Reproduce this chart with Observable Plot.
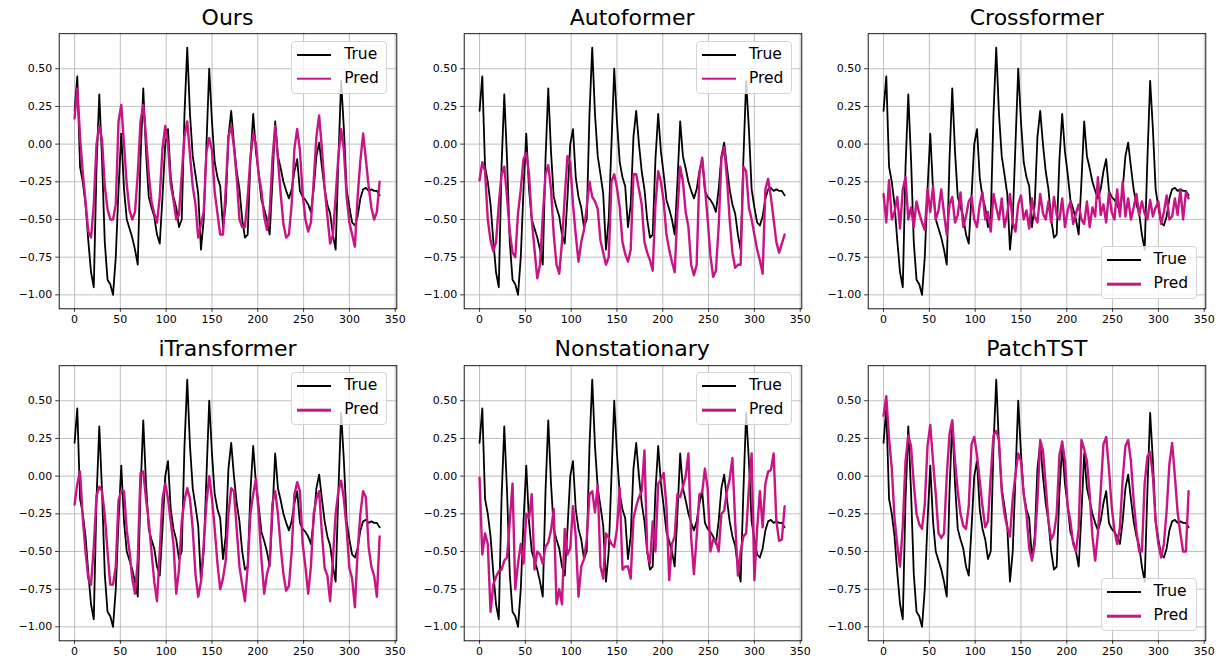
<!DOCTYPE html>
<html><head><meta charset="utf-8">
<script src="https://cdn.jsdelivr.net/npm/d3@7"></script>
<script src="https://cdn.jsdelivr.net/npm/@observablehq/plot@0.6"></script>
<style>
html,body{margin:0;padding:0;background:#fff;}
#fig{position:relative;width:1228px;height:666px;font-family:"DejaVu Sans",sans-serif;overflow:hidden;background:#fff;}
.panel{position:absolute;}
.title{position:absolute;transform:translate(-50%,-100%);font-size:22px;line-height:1;white-space:nowrap;color:#000;}
.legend{position:absolute;width:96px;height:53px;border:1px solid #d4d4d4;border-radius:4px;background:rgba(255,255,255,0.8);box-sizing:border-box;}
.sw{position:absolute;left:5px;width:34px;transform:translateY(-50%);}
.lt{position:absolute;left:52px;transform:translateY(-50%);font-size:15.5px;line-height:1;color:#000;white-space:nowrap;}
</style>
</head><body>
<div id="fig"></div>
<script>
// time index of each sample (every 3rd step of the 336-step horizon)
const steps = d3.range(0, 334, 3);

const trueVals = [
  0.22, 0.45, -0.15, -0.25, -0.40, -0.64, -0.85, -0.95, -0.15, 0.33,
  -0.10, -0.65, -0.90, -0.93, -1.00, -0.75, -0.30, 0.07, -0.30, -0.50,
  -0.56, -0.62, -0.70, -0.80, -0.10, 0.37, -0.05, -0.35, -0.42, -0.48,
  -0.60, -0.66, -0.35, 0.00, 0.10, -0.22, -0.35, -0.42, -0.55, -0.50,
  0.20, 0.64, 0.20, -0.08, -0.20, -0.33, -0.70, -0.50, 0.00, 0.50,
  0.15, -0.12, -0.22, -0.28, -0.55, -0.40, 0.05, 0.22, 0.00, -0.18,
  -0.30, -0.50, -0.62, -0.60, -0.10, 0.20, -0.05, -0.20, -0.37, -0.43,
  -0.50, -0.60, -0.25, 0.15, -0.08, -0.16, -0.25, -0.31, -0.36, -0.30,
  -0.18, -0.10, -0.31, -0.35, -0.37, -0.40, -0.45, -0.30, -0.08, 0.01,
  -0.15, -0.30, -0.40, -0.46, -0.60, -0.70, -0.10, 0.42, 0.10, -0.30,
  -0.42, -0.52, -0.54, -0.48, -0.36, -0.30, -0.29, -0.31, -0.30, -0.31,
  -0.31, -0.34
];

const oursPred = [
  0.17, 0.37, 0.05, -0.19, -0.38, -0.58, -0.62, -0.40, 0.00, 0.12,
  0.03, -0.28, -0.43, -0.50, -0.50, -0.40, 0.15, 0.26, 0.00, -0.27,
  -0.44, -0.50, -0.45, -0.20, 0.15, 0.26, 0.05, -0.20, -0.38, -0.46,
  -0.52, -0.35, -0.03, 0.12, 0.00, -0.27, -0.37, -0.50, -0.47, -0.20,
  0.05, 0.15, -0.07, -0.28, -0.40, -0.62, -0.53, -0.45, -0.05, 0.04,
  -0.04, -0.32, -0.46, -0.60, -0.60, -0.30, 0.05, 0.12, -0.02, -0.22,
  -0.50, -0.55, -0.55, -0.35, -0.09, 0.07, 0.00, -0.20, -0.31, -0.48,
  -0.57, -0.45, -0.10, 0.12, -0.10, -0.33, -0.53, -0.62, -0.60, -0.40,
  -0.03, 0.10, -0.04, -0.33, -0.50, -0.58, -0.52, -0.25, 0.05, 0.19,
  -0.03, -0.29, -0.48, -0.66, -0.60, -0.35, -0.08, 0.10, -0.04, -0.35,
  -0.52, -0.60, -0.68, -0.35, -0.11, 0.07, -0.10, -0.28, -0.42, -0.50,
  -0.45, -0.25
];

const autoformerPred = [
  -0.24, -0.12, -0.18, -0.50, -0.64, -0.71, -0.65, -0.40, -0.20, -0.15,
  -0.35, -0.58, -0.72, -0.75, -0.46, -0.30, -0.10, -0.06, -0.20, -0.50,
  -0.70, -0.89, -0.80, -0.48, -0.20, -0.14, -0.30, -0.60, -0.80, -0.86,
  -0.65, -0.35, -0.08, -0.12, -0.40, -0.60, -0.78, -0.65, -0.57, -0.42,
  -0.25, -0.35, -0.38, -0.43, -0.64, -0.72, -0.80, -0.75, -0.25, -0.20,
  -0.29, -0.42, -0.65, -0.73, -0.78, -0.70, -0.20, -0.20, -0.30, -0.40,
  -0.65, -0.72, -0.77, -0.84, -0.40, -0.18, -0.25, -0.38, -0.60, -0.70,
  -0.78, -0.85, -0.45, -0.15, -0.25, -0.45, -0.55, -0.80, -0.87, -0.80,
  -0.20, -0.09, -0.28, -0.50, -0.74, -0.88, -0.84, -0.55, -0.10, -0.02,
  -0.22, -0.50, -0.72, -0.82, -0.80, -0.80, -0.15, -0.18, -0.42, -0.50,
  -0.60, -0.70, -0.77, -0.86, -0.30, -0.23, -0.35, -0.50, -0.65, -0.72,
  -0.66, -0.60
];

const crossformerPred = [
  -0.33, -0.52, -0.24, -0.50, -0.45, -0.35, -0.56, -0.30, -0.22, -0.50,
  -0.42, -0.55, -0.38, -0.46, -0.52, -0.57, -0.30, -0.45, -0.28, -0.50,
  -0.44, -0.30, -0.46, -0.60, -0.40, -0.35, -0.52, -0.47, -0.32, -0.55,
  -0.48, -0.38, -0.35, -0.50, -0.55, -0.40, -0.32, -0.50, -0.45, -0.58,
  -0.33, -0.42, -0.50, -0.36, -0.55, -0.46, -0.33, -0.52, -0.58, -0.40,
  -0.34, -0.50, -0.44, -0.56, -0.36, -0.48, -0.52, -0.33, -0.46, -0.50,
  -0.38, -0.52, -0.35, -0.47, -0.50, -0.36, -0.55, -0.44, -0.38, -0.53,
  -0.46, -0.40, -0.50, -0.53, -0.38, -0.55, -0.42, -0.48, -0.22, -0.47,
  -0.40, -0.52, -0.32, -0.45, -0.50, -0.30, -0.48, -0.25, -0.48, -0.36,
  -0.50, -0.42, -0.33, -0.47, -0.38, -0.46, -0.50, -0.37, -0.48, -0.42,
  -0.38, -0.53, -0.45, -0.34, -0.50, -0.48, -0.36, -0.47, -0.30, -0.50,
  -0.32, -0.36
];

const itransformerPred = [
  -0.19, -0.05, 0.03, -0.28, -0.50, -0.68, -0.72, -0.47, -0.13, -0.07,
  -0.10, -0.26, -0.50, -0.72, -0.72, -0.60, -0.16, -0.10, -0.10, -0.36,
  -0.50, -0.68, -0.78, -0.56, 0.02, 0.03, -0.15, -0.30, -0.50, -0.70,
  -0.83, -0.50, -0.15, -0.05, -0.15, -0.30, -0.45, -0.78, -0.62, -0.30,
  -0.16, -0.08, -0.15, -0.35, -0.65, -0.80, -0.70, -0.45, -0.18, 0.00,
  -0.15, -0.35, -0.58, -0.75, -0.68, -0.56, -0.25, -0.08, -0.10, -0.35,
  -0.60, -0.72, -0.83, -0.60, -0.25, -0.12, -0.02, -0.25, -0.55, -0.78,
  -0.65, -0.58, -0.18, -0.10, -0.25, -0.47, -0.65, -0.76, -0.73, -0.50,
  -0.12, -0.04, -0.10, -0.45, -0.60, -0.78, -0.60, -0.25, -0.15, -0.10,
  -0.38, -0.61, -0.66, -0.83, -0.55, -0.25, -0.10, -0.03, -0.15, -0.35,
  -0.61, -0.68, -0.87, -0.50, -0.25, -0.10, -0.14, -0.47, -0.60, -0.66,
  -0.80, -0.40
];

const nonstationaryPred = [
  -0.01, -0.52, -0.38, -0.45, -0.90, -0.72, -0.67, -0.63, -0.62, -0.56,
  -0.54, -0.30, -0.05, -0.75, -0.58, -0.45, -0.58, -0.25, -0.28, -0.12,
  -0.62, -0.50, -0.52, -0.58, -0.47, -0.44, -0.36, -0.22, -0.85, -0.75,
  -0.85, -0.35, -0.52, -0.48, -0.20, -0.40, -0.80, -0.60, -0.55, -0.42,
  -0.12, -0.10, -0.24, -0.06, -0.60, -0.68, -0.38, -0.41, -0.45, -0.47,
  -0.35, -0.08, -0.62, -0.60, -0.60, -0.68, -0.28, -0.20, -0.14, -0.10,
  0.17, -0.50, -0.58, -0.30, -0.50, -0.05, -0.02, 0.02, -0.20, -0.69,
  -0.45, -0.40, -0.12, -0.14, -0.07, 0.00, 0.15, -0.41, -0.65, -0.40,
  -0.12, -0.11, 0.05, -0.08, -0.50, -0.42, -0.43, -0.50, -0.25, -0.23,
  -0.10, -0.02, 0.12, -0.30, -0.66, -0.50, -0.40, -0.38, -0.08, 0.15,
  -0.69, -0.35, -0.10, -0.34, -0.05, 0.03, 0.04, 0.15, -0.30, -0.43,
  -0.42, -0.20
];

const patchtstPred = [
  0.40, 0.53, 0.25, 0.05, -0.28, -0.46, -0.60, -0.33, 0.10, 0.27,
  0.20, -0.05, -0.25, -0.32, -0.35, -0.19, 0.20, 0.34, 0.10, -0.12,
  -0.38, -0.41, -0.38, 0.00, 0.28, 0.37, 0.10, -0.10, -0.25, -0.33,
  -0.35, -0.20, 0.21, 0.26, 0.14, -0.03, -0.20, -0.34, -0.30, 0.00,
  0.27, 0.30, 0.24, -0.10, -0.25, -0.34, -0.40, -0.15, 0.01, 0.15,
  0.10, -0.12, -0.25, -0.48, -0.56, -0.45, -0.16, 0.24, 0.17, -0.06,
  -0.30, -0.42, -0.38, -0.25, 0.14, 0.23, 0.10, -0.20, -0.30, -0.45,
  -0.50, -0.35, 0.24, 0.18, 0.10, -0.12, -0.40, -0.56, -0.38, -0.10,
  0.21, 0.26, 0.05, -0.20, -0.36, -0.45, -0.34, -0.02, 0.20, 0.24,
  0.10, -0.16, -0.36, -0.50, -0.50, -0.05, 0.13, 0.16, 0.00, -0.30,
  -0.45, -0.54, -0.45, -0.23, 0.08, 0.22, 0.00, -0.24, -0.38, -0.50,
  -0.50, -0.10
];

const titles = ["Ours", "Autoformer", "Crossformer", "iTransformer", "Nonstationary", "PatchTST"];
const predSeries = [oursPred, autoformerPred, crossformerPred, itransformerPred, nonstationaryPred, patchtstPred];
const legendNames = ["True", "Pred"];
const xTicks = [0, 50, 100, 150, 200, 250, 300, 350];
const yTicks = [-1.0, -0.75, -0.5, -0.25, 0.0, 0.25, 0.5];

// styling / layout
const legendAtBottom = [false, false, true, false, false, true];
const trueColor = "#000000", predColor = "#c71585";
const W = 405, H = 332, ML = 58.7, MR = 8.7, MT = 33.2, MB = 23.7;
const FW = W - ML - MR, FH = H - MT - MB;
const colX = [0, 404.65, 809.3], rowY = [0, 331.7];

const fig = document.getElementById("fig");
predSeries.forEach((pred, i) => {
  const c = i % 3, r = Math.floor(i / 3);
  const data = steps.map((t, j) => ({t, truth: trueVals[j], pred: pred[j]}));
  const chart = Plot.plot({
    width: W, height: H,
    marginLeft: ML, marginRight: MR, marginTop: MT, marginBottom: MB,
    x: {domain: [-16.75, 351.75]},
    y: {domain: [-1.0925, 0.7325]},
    style: {fontFamily: "DejaVu Sans", fontSize: "11px", color: "#000", background: "transparent", overflow: "visible"},
    marks: [
      Plot.gridX(xTicks, {stroke: "#b0b0b0", strokeOpacity: 1, strokeWidth: 0.8}),
      Plot.gridY(yTicks, {stroke: "#b0b0b0", strokeOpacity: 1, strokeWidth: 0.8}),
      Plot.line(data, {x: "t", y: "truth", stroke: trueColor, strokeWidth: 1.8}),
      Plot.line(data, {x: "t", y: "pred", stroke: predColor, strokeWidth: 2.4}),
      Plot.axisX(xTicks, {tickSize: 3.5, tickPadding: 3, strokeWidth: 0.8, label: null, tickFormat: d => String(d)}),
      Plot.axisY(yTicks, {tickSize: 3.5, tickPadding: 3.5, strokeWidth: 0.8, label: null, tickFormat: d3.format(".2f")}),
      Plot.frame({stroke: "#000", strokeWidth: 0.9})
    ]
  });
  chart.classList.add("panel");
  chart.style.left = colX[c] + "px";
  chart.style.top = rowY[r] + "px";
  fig.appendChild(chart);

  const t = document.createElement("div");
  t.className = "title";
  t.textContent = titles[i];
  t.style.left = (colX[c] + ML + FW / 2) + "px";
  t.style.top = (rowY[r] + MT - 4.5) + "px";
  fig.appendChild(t);

  const lg = document.createElement("div");
  lg.className = "legend";
  lg.style.left = (colX[c] + ML + FW - 9 - 96) + "px";
  lg.style.top = (rowY[r] + (legendAtBottom[i] ? MT + FH - 9 - 53 : MT + 7.5)) + "px";
  const rowsY = [13, 37];
  const colors = [trueColor, predColor];
  const widths = [2, 2.6];
  legendNames.forEach((name, k) => {
    const sw = document.createElement("div");
    sw.className = "sw";
    sw.style.top = rowsY[k] + "px";
    sw.style.height = widths[k] + "px";
    sw.style.background = colors[k];
    lg.appendChild(sw);
    const lt = document.createElement("span");
    lt.className = "lt";
    lt.style.top = rowsY[k] + "px";
    lt.textContent = name;
    lg.appendChild(lt);
  });
  fig.appendChild(lg);
});
</script>
</body></html>
